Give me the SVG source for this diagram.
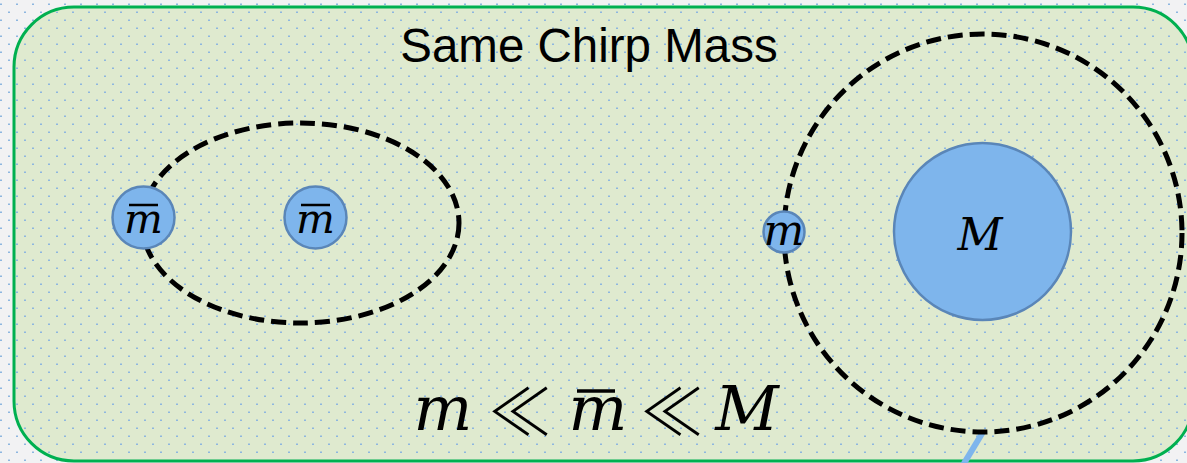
<svg xmlns="http://www.w3.org/2000/svg" width="1187" height="463" viewBox="0 0 1187 463">
<defs>
<pattern id="dots" x="0" y="0" width="16" height="16" patternUnits="userSpaceOnUse">
<rect x="0" y="3.5" width="2" height="1.5" fill="#8db6e0"/>
<rect x="8" y="11.5" width="2" height="1.5" fill="#8db6e0"/>
</pattern>
<style>
.orbit{fill:none;stroke:#000;stroke-width:5;stroke-dasharray:15 7}
.body{fill:#7eb5ec;stroke:#5a86b8;stroke-width:2.5}
.math{font-family:"DejaVu Serif",serif;font-style:italic;fill:#000;text-anchor:middle}
.rel{font-family:"Noto Sans CJK JP","DejaVu Sans",sans-serif;font-weight:300;font-style:normal;font-size:64px}
.bar{stroke:#000;stroke-width:2.5}
.title{font-family:"Liberation Sans",Arial,sans-serif;font-size:47.5px;fill:#000;text-anchor:middle}
</style>
</defs>
<rect x="0" y="0" width="1187" height="463" fill="#f2f2f3"/>
<rect x="0" y="0" width="1187" height="463" fill="url(#dots)"/>
<g id="frame">
<rect x="14" y="7" width="1179" height="454" rx="60" ry="60" fill="#dfeacf" stroke="#00b050" stroke-width="3"/>
<rect x="16" y="9" width="1175" height="450" rx="58" ry="58" fill="url(#dots)"/>
<text class="title" x="589" y="62">Same Chirp Mass</text>
</g>
<g id="connectors">
<line x1="983" y1="432" x2="963" y2="465" stroke="#7eb5ec" stroke-width="6"/>
<ellipse class="orbit" cx="300.5" cy="223" rx="158.5" ry="100"/>
<circle class="orbit" cx="983" cy="233" r="199"/>
</g>
<g id="mbar1">
<circle class="body" cx="143.5" cy="217.5" r="31"/>
<text class="math" x="143.5" y="233" font-size="41">m</text>
<line class="bar" x1="129" y1="205" x2="158" y2="205"/>
</g>
<g id="mbar2">
<circle class="body" cx="315.5" cy="217.5" r="31"/>
<text class="math" x="315.5" y="233" font-size="41">m</text>
<line class="bar" x1="301" y1="205" x2="330" y2="205"/>
</g>
<g id="m">
<circle class="body" cx="784" cy="232" r="20.5"/>
<text class="math" x="784" y="245" font-size="43">m</text>
</g>
<g id="M">
<circle class="body" cx="982.5" cy="231.5" r="88.5"/>
<text class="math" x="980" y="250" font-size="44">M</text>
</g>
<g id="relation">
<text class="math" font-size="62" y="430"><tspan x="443">m</tspan><tspan x="520" y="435" class="rel">≪</tspan><tspan x="598" y="430">m</tspan><tspan x="672" y="435" class="rel">≪</tspan><tspan x="747" y="430">M</tspan></text>
<line x1="577" y1="391" x2="615" y2="391" stroke="#000" stroke-width="3.5"/>
</g>
</svg>
